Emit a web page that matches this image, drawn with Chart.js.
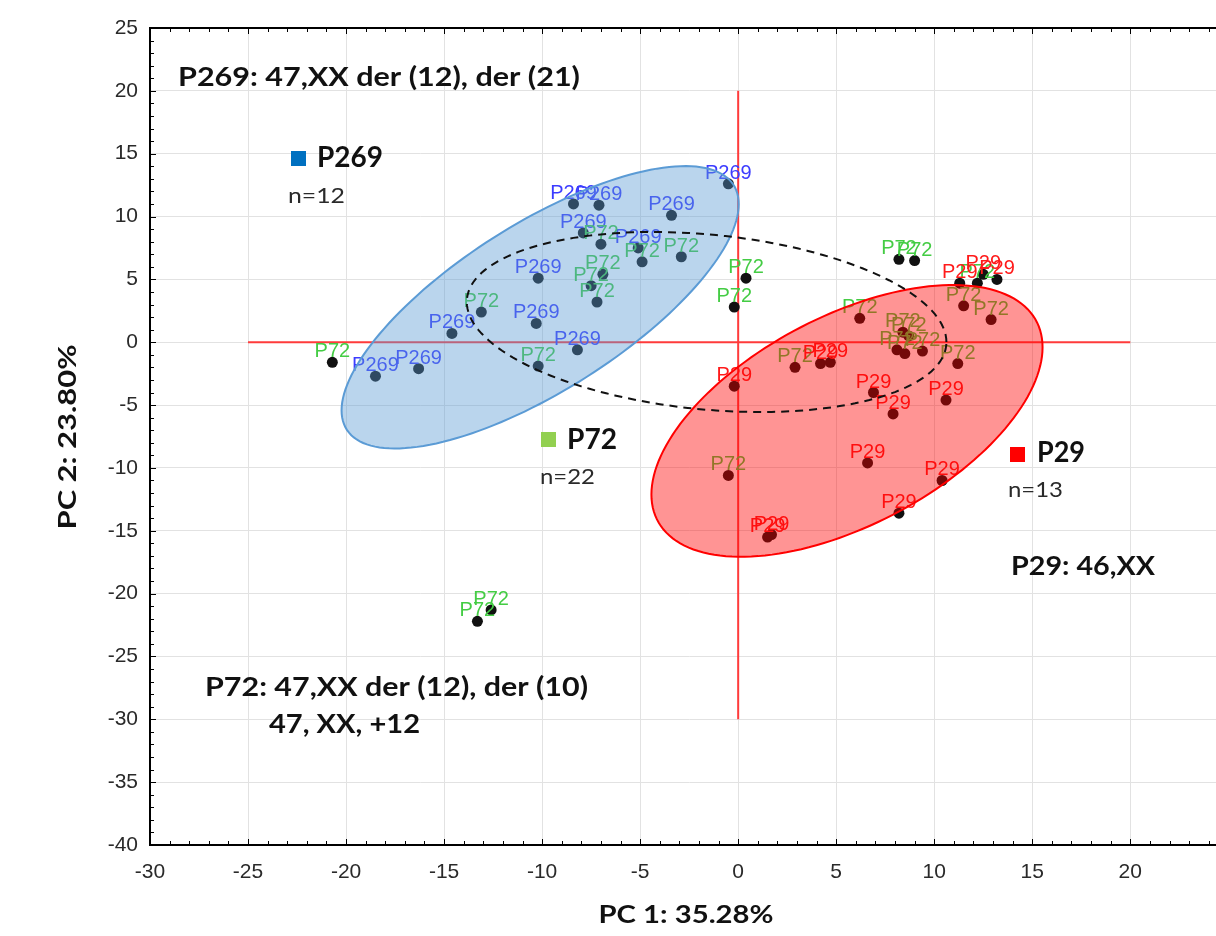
<!DOCTYPE html>
<html>
<head>
<meta charset="utf-8">
<script src="https://cdn.jsdelivr.net/npm/chart.js@4.4.1/dist/chart.umd.min.js"></script>
<style>
  html, body { margin: 0; padding: 0; overflow: hidden; background: #fff; }
  #wrap { width: 1255px; height: 936px; }
</style>
</head>
<body>
<div id="wrap"><canvas id="pca" width="1255" height="936"></canvas></div>
<script>
// PCA scores
const p269X = [-0.5, -8.4, -7.1, -3.4, -7.9, -5.1, -10.2, -10.3, -14.6, -8.2, -18.5, -16.3];
const p269Y = [12.6, 11.0, 10.9, 10.1, 8.7, 7.5, 5.1, 1.5, 0.7, -0.6, -2.7, -2.1];

const p72X = [-7.0, -4.9, -2.9, -6.9, -7.5, -7.2, -13.1, -10.2, -20.7, 0.4, -0.2,
              -13.3, -12.6,
              8.2, 9.0, 6.2, 11.2, 2.9, 8.4, 8.7, 8.1, 8.5, 9.4, 11.5, 12.9, -0.5, 12.2];
const p72Y = [7.8, 6.4, 6.8, 5.4, 4.5, 3.2, 2.4, -1.9, -1.6, 5.1, 2.8,
              -22.2, -21.3,
              6.6, 6.5, 1.9, -1.7, -2.0, 0.8, 0.5, -0.6, -0.9, -0.7, 2.9, 1.8, -10.6, 4.7];

const p29X = [-0.2, 4.2, 4.7, 6.9, 7.9, 10.6, 6.6, 10.4, 8.2, 1.5, 1.7, 11.3, 12.5, 13.2];
const p29Y = [-3.5, -1.7, -1.6, -4.0, -5.7, -4.6, -9.6, -11.0, -13.6, -15.5, -15.3, 4.7, 5.4, 5.0];

const xTickValues = [-30, -25, -20, -15, -10, -5, 0, 5, 10, 15, 20, 25];
const yTickValues = [-40, -35, -30, -25, -20, -15, -10, -5, 0, 5, 10, 15, 20, 25];

// confidence ellipses (centre + covariance, data units)
const ellipseP269 = { cx: -10.1, cy: 2.78, vx: 102.6, vy: 126.2, cov: 83.1 };
const ellipseP29 = { cx: 5.55, cy: -6.26, vx: 99.5, vy: 116.9, cov: 58.4 };
const ellipseAll = { cx: -1.61, cy: 1.61, vx: 149.6, vy: 51.3, cov: -19.5 };

// red cross through the origin
const crossX = [-25, 20];
const crossY = [-30, 20];

const notes = [
  { text: "P269: 47,XX der (12), der (21)", x: 178, y: 78, w: 402, size: 26, bold: true },
  { text: "P269", x: 317, y: 158, w: 66, size: 28, bold: true },
  { text: "n=12", x: 288, y: 196, w: 57, size: 21, bold: false },
  { text: "P72", x: 567, y: 440, w: 50, size: 28, bold: true },
  { text: "n=22", x: 540, y: 477, w: 55, size: 21, bold: false },
  { text: "P29", x: 1037, y: 453, w: 48, size: 28, bold: true },
  { text: "n=13", x: 1008, y: 490, w: 55, size: 21, bold: false },
  { text: "P29: 46,XX", x: 1011, y: 567, w: 144, size: 26, bold: true },
  { text: "P72: 47,XX der (12), der (10)", x: 205, y: 688, w: 383, size: 26, bold: true },
  { text: "47, XX, +12", x: 269, y: 725, w: 151, size: 26, bold: true }
];
const squares = [
  { x: 291, y: 151, color: "#0070c0" },
  { x: 541, y: 432, color: "#92d050" },
  { x: 1010, y: 447, color: "#ff0000" }
];

function toPoints(xs, ys) {
  return xs.map((x, i) => ({ x: x, y: ys[i] }));
}

function fitText(ctx, text, x, y, w) {
  const natural = ctx.measureText(text).width;
  ctx.save();
  ctx.translate(x, y);
  ctx.scale(w / natural, 1);
  ctx.fillText(text, 0, 0);
  ctx.restore();
}

function traceEllipse(ctx, e, xs, ys) {
  const a = Math.sqrt(e.vx), b = e.cov / a, c = Math.sqrt(e.vy - b * b);
  ctx.beginPath();
  for (let i = 0; i <= 160; i++) {
    const t = i / 160 * Math.PI * 2;
    const px = xs.getPixelForValue(e.cx + a * Math.cos(t));
    const py = ys.getPixelForValue(e.cy + b * Math.cos(t) + c * Math.sin(t));
    if (i === 0) ctx.moveTo(px, py); else ctx.lineTo(px, py);
  }
  ctx.closePath();
}

const overlay = {
  id: "overlay",
  beforeDatasetsDraw(chart) {
    const { ctx, scales: { x, y } } = chart;
    ctx.save();
    ctx.strokeStyle = "#ff3b3b";
    ctx.lineWidth = 2;
    ctx.beginPath();
    ctx.moveTo(x.getPixelForValue(crossX[0]), y.getPixelForValue(0));
    ctx.lineTo(x.getPixelForValue(crossX[1]), y.getPixelForValue(0));
    ctx.moveTo(x.getPixelForValue(0), y.getPixelForValue(crossY[0]));
    ctx.lineTo(x.getPixelForValue(0), y.getPixelForValue(crossY[1]));
    ctx.stroke();
    ctx.restore();
  },
  afterDatasetsDraw(chart) {
    const { ctx, scales: { x, y } } = chart;
    ctx.save();
    // point labels
    ctx.font = '20px "Liberation Sans", Arial, sans-serif';
    ctx.textAlign = "center";
    ctx.textBaseline = "alphabetic";
    chart.data.datasets.forEach((ds, i) => {
      ctx.fillStyle = ds.labelColor;
      chart.getDatasetMeta(i).data.forEach(el => {
        ctx.fillText(ds.label, el.x, el.y - 5);
      });
    });
    // ellipses on top
    traceEllipse(ctx, ellipseP269, x, y);
    ctx.fillStyle = "rgba(91,155,213,0.42)";
    ctx.fill();
    ctx.strokeStyle = "#5b9bd5";
    ctx.lineWidth = 2;
    ctx.stroke();

    traceEllipse(ctx, ellipseP29, x, y);
    ctx.fillStyle = "rgba(255,0,0,0.42)";
    ctx.fill();
    ctx.strokeStyle = "#ff0000";
    ctx.stroke();

    traceEllipse(ctx, ellipseAll, x, y);
    ctx.setLineDash([8, 6]);
    ctx.strokeStyle = "#111";
    ctx.stroke();
    ctx.restore();
  },
  afterDraw(chart) {
    const { ctx, chartArea: a, scales: { x, y } } = chart;
    ctx.save();
    // frame top/right and small inside ticks
    ctx.strokeStyle = "#000";
    ctx.lineWidth = 2;
    ctx.beginPath();
    ctx.moveTo(a.left, a.top); ctx.lineTo(a.right, a.top); ctx.lineTo(a.right, a.bottom);
    ctx.stroke();
    ctx.lineWidth = 1;
    ctx.beginPath();
    for (let v = x.min; v <= x.max; v++) {
      const px = Math.round(x.getPixelForValue(v)) + 0.5;
      const len = v % 5 === 0 ? 6 : 4;
      ctx.moveTo(px, a.top); ctx.lineTo(px, a.top + len);
      ctx.moveTo(px, a.bottom); ctx.lineTo(px, a.bottom - len);
    }
    for (let v = y.min; v <= y.max; v++) {
      const py = Math.round(y.getPixelForValue(v)) + 0.5;
      const len = v % 5 === 0 ? 6 : 4;
      ctx.moveTo(a.left, py); ctx.lineTo(a.left + len, py);
    }
    ctx.stroke();

    // legend squares and notes
    squares.forEach(s => {
      ctx.fillStyle = s.color;
      ctx.fillRect(s.x, s.y, 15, 15);
    });
    ctx.textAlign = "left";
    ctx.textBaseline = "middle";
    notes.forEach(n => {
      ctx.font = (n.bold ? "bold " : "") + n.size + "px Lato, sans-serif";
      ctx.fillStyle = n.bold ? "#111" : "#2a2a2a";
      fitText(ctx, n.text, n.x, n.y, n.w);
    });

    // axis titles
    ctx.font = "bold 24px Lato, sans-serif";
    ctx.fillStyle = "#111";
    ctx.textAlign = "center";
    fitText(ctx, "PC 1: 35.28%", 686, 915, 175);
    ctx.save();
    ctx.translate(68, 437);
    ctx.rotate(-Math.PI / 2);
    fitText(ctx, "PC 2: 23.80%", 0, 0, 185);
    ctx.restore();
    ctx.restore();
  }
};

const tickFont = { family: '"Liberation Sans", Arial, sans-serif', size: 21 };

new Chart(document.getElementById("pca"), {
  type: "scatter",
  data: {
    datasets: [
      { label: "P269", labelColor: "#3c3cff", data: toPoints(p269X, p269Y) },
      { label: "P72", labelColor: "#44cc44", data: toPoints(p72X, p72Y) },
      { label: "P29", labelColor: "#ff1a1a", data: toPoints(p29X, p29Y) }
    ]
  },
  options: {
    responsive: false,
    animation: false,
    devicePixelRatio: 1,
    layout: { padding: { top: 28, right: 15, left: 0, bottom: 0 } },
    elements: {
      point: { radius: 5.5, backgroundColor: "#111", borderWidth: 0, hoverRadius: 5.5 }
    },
    plugins: { legend: { display: false }, tooltip: { enabled: false } },
    scales: {
      x: {
        type: "linear",
        min: -30,
        max: 25,
        afterBuildTicks: s => { s.ticks = xTickValues.map(v => ({ value: v })); },
        afterFit: s => { s.height = 91; },
        grid: { color: "#e2e2e2", drawTicks: false },
        border: { display: true, color: "#000", width: 2 },
        ticks: { padding: 15, color: "#2a2a2a", font: tickFont, maxRotation: 0, autoSkip: false }
      },
      y: {
        type: "linear",
        min: -40,
        max: 25,
        afterBuildTicks: s => { s.ticks = yTickValues.map(v => ({ value: v })); },
        afterFit: s => { s.width = 150; },
        grid: { color: "#e2e2e2", drawTicks: false },
        border: { display: true, color: "#000", width: 2 },
        ticks: { padding: 12, color: "#2a2a2a", font: tickFont, autoSkip: false }
      }
    }
  },
  plugins: [overlay]
});
</script>
</body>
</html>
